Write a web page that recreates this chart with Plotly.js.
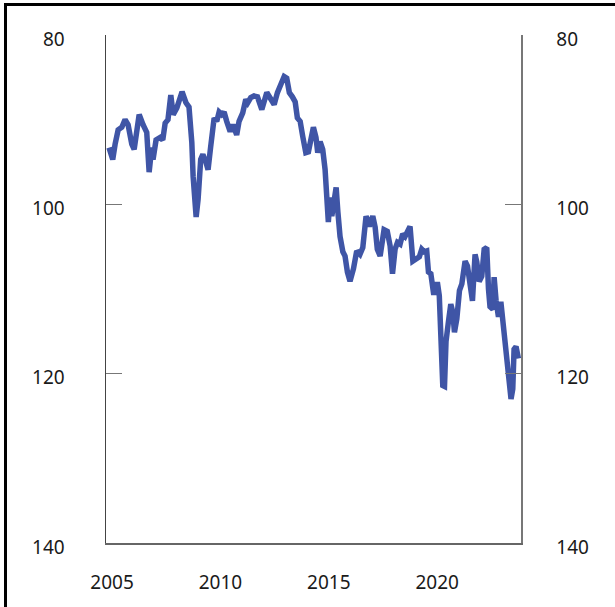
<!DOCTYPE html>
<html>
<head>
<meta charset="utf-8">
<script src="https://cdn.plot.ly/plotly-3.0.1.min.js"></script>
<style>
  html, body { margin: 0; padding: 0; background: #fff; }
  #wrap { position: relative; width: 615px; height: 607px; }
  #chart { position: absolute; left: 0; top: 0; width: 615px; height: 607px; }
  .bt { position: absolute; left: 4px; top: 3px; width: 611px; height: 3px; background: #000; }
  .bl { position: absolute; left: 4px; top: 3px; width: 3px; height: 604px; background: #000; }
</style>
</head>
<body>
<div id="wrap">
  <div id="chart"></div>
  <div class="bt"></div>
  <div class="bl"></div>
</div>
<script>
// Decimal years and index values (axis reversed)
const years = [
  2004.86, 2005.03, 2005.14, 2005.28, 2005.45, 2005.60, 2005.74, 2005.91, 2006.02, 2006.25,
  2006.43, 2006.60, 2006.71, 2006.83, 2006.89, 2007.03, 2007.22, 2007.34, 2007.45, 2007.58,
  2007.71, 2007.82, 2007.99, 2008.23, 2008.41, 2008.55, 2008.68, 2008.74, 2008.88, 2008.97,
  2009.09, 2009.19, 2009.34, 2009.43, 2009.55, 2009.65, 2009.71, 2009.83, 2009.94, 2010.06,
  2010.17, 2010.29, 2010.45, 2010.58, 2010.75, 2010.86, 2011.03, 2011.17, 2011.26, 2011.40,
  2011.55, 2011.71, 2011.91, 2012.14, 2012.29, 2012.48, 2012.63, 2012.75, 2012.94, 2013.06,
  2013.18, 2013.32, 2013.45, 2013.55, 2013.68, 2013.80, 2013.94, 2014.06, 2014.17, 2014.29,
  2014.41, 2014.49, 2014.60, 2014.72, 2014.83, 2014.91, 2014.98, 2015.06, 2015.14, 2015.21,
  2015.34, 2015.42, 2015.52, 2015.65, 2015.75, 2015.86, 2015.98, 2016.14, 2016.29, 2016.44,
  2016.57, 2016.72, 2016.87, 2017.03, 2017.14, 2017.24, 2017.37, 2017.55, 2017.70, 2017.83,
  2017.94, 2018.06, 2018.17, 2018.29, 2018.41, 2018.52, 2018.63, 2018.75, 2018.88, 2019.03,
  2019.18, 2019.29, 2019.40, 2019.52, 2019.60, 2019.71, 2019.83, 2019.94, 2020.01, 2020.10,
  2020.18, 2020.26, 2020.34, 2020.41, 2020.52, 2020.63, 2020.72, 2020.80, 2020.91, 2021.03,
  2021.14, 2021.29, 2021.40, 2021.52, 2021.63, 2021.75, 2021.83, 2021.94, 2022.06, 2022.17,
  2022.29, 2022.37, 2022.44, 2022.57, 2022.63, 2022.72, 2022.83, 2022.94, 2023.03, 2023.14,
  2023.24, 2023.33, 2023.41, 2023.49, 2023.55, 2023.64, 2023.75
];
const values = [
  93.3, 94.7, 92.9, 91.2, 90.9, 90.0, 90.6, 92.9, 93.5, 89.4,
  90.6, 91.5, 96.2, 93.3, 94.7, 92.4, 92.1, 92.4, 90.4, 90.0,
  87.1, 89.4, 88.6, 86.7, 88.0, 88.5, 92.7, 96.7, 101.5, 99.4,
  94.7, 94.1, 95.1, 95.9, 93.2, 90.0, 89.8, 90.2, 89.1, 89.4,
  89.1, 90.2, 91.4, 90.6, 91.8, 90.2, 89.2, 87.6, 88.0, 87.4,
  87.2, 87.3, 88.8, 86.8, 87.4, 88.2, 86.8, 86.2, 84.9, 85.1,
  86.8, 87.3, 87.9, 89.8, 90.2, 92.0, 93.9, 93.8, 92.4, 90.9,
  92.1, 93.9, 92.6, 93.5, 95.9, 99.4, 102.1, 99.2, 101.4, 100.2,
  98.0, 100.9, 103.8, 105.6, 106.1, 108.0, 109.1, 107.6, 105.5, 105.9,
  105.1, 101.4, 102.6, 101.4, 102.7, 105.3, 106.1, 103.0, 103.2, 104.9,
  108.2, 105.3, 104.5, 104.7, 103.5, 103.8, 103.0, 102.6, 106.7, 106.5,
  106.2, 105.3, 105.6, 105.5, 108.0, 108.2, 110.4, 110.4, 109.2, 110.8,
  115.9, 121.4, 121.5, 116.2, 113.9, 111.8, 112.7, 115.1, 113.5, 110.2,
  109.4, 106.7, 107.3, 110.0, 111.4, 105.9, 106.8, 109.1, 108.5, 105.3,
  105.1, 110.0, 112.1, 112.4, 108.6, 111.4, 113.3, 111.5, 113.5, 115.9,
  119.1, 120.6, 123.0, 121.8, 117.1, 116.8, 118.2
];
const xTickVals = [2005, 2010, 2015, 2020];
const xTickText = ['2005', '2010', '2015', '2020'];
const yTickVals = [80, 100, 120, 140];
const yTickText = ['80', '100', '120', '140'];

const fontSpec = { family: 'Noto Sans, Open Sans, sans-serif', size: 19, color: '#1a1a1a' };

const traces = [{
  x: years, y: values, type: 'scatter', mode: 'lines',
  line: { color: '#3f55a6', width: 5.5, shape: 'linear' },
  hoverinfo: 'skip', showlegend: false
}, {
  x: years, y: values, type: 'scatter', mode: 'lines', yaxis: 'y2',
  line: { color: 'rgba(0,0,0,0)', width: 0 },
  hoverinfo: 'skip', showlegend: false
}];

const layout = {
  width: 615, height: 607,
  margin: { l: 106, r: 94, t: 35, b: 64, pad: 0 },
  paper_bgcolor: 'rgba(0,0,0,0)', plot_bgcolor: '#fff',
  font: fontSpec,
  showlegend: false,
  xaxis: {
    range: [2004.72, 2023.87], tickvals: xTickVals, ticktext: xTickText,
    showgrid: false, zeroline: false, showline: true, linecolor: '#666', linewidth: 1.5,
    ticks: '', ticklabelstandoff: 22, tickfont: fontSpec, mirror: false
  },
  yaxis: {
    range: [140, 80], tickvals: yTickVals, ticktext: yTickText,
    showgrid: false, zeroline: false, showline: true, linecolor: '#444', linewidth: 1.5,
    ticks: 'inside', ticklen: 16, tickwidth: 1.5, tickcolor: '#777',
    ticklabelstandoff: 36, ticklabelshift: -4, tickfont: fontSpec
  },
  yaxis2: {
    range: [140, 80], tickvals: yTickVals, ticktext: yTickText,
    overlaying: 'y', side: 'right', anchor: 'x',
    showgrid: false, zeroline: false, showline: true, linecolor: '#777', linewidth: 1.5,
    ticks: 'inside', ticklen: 16, tickwidth: 1.5, tickcolor: '#777',
    ticklabelstandoff: 30, ticklabelshift: -4, tickfont: fontSpec
  }
};

Plotly.newPlot('chart', traces, layout, { staticPlot: true, displayModeBar: false });
</script>
</body>
</html>
